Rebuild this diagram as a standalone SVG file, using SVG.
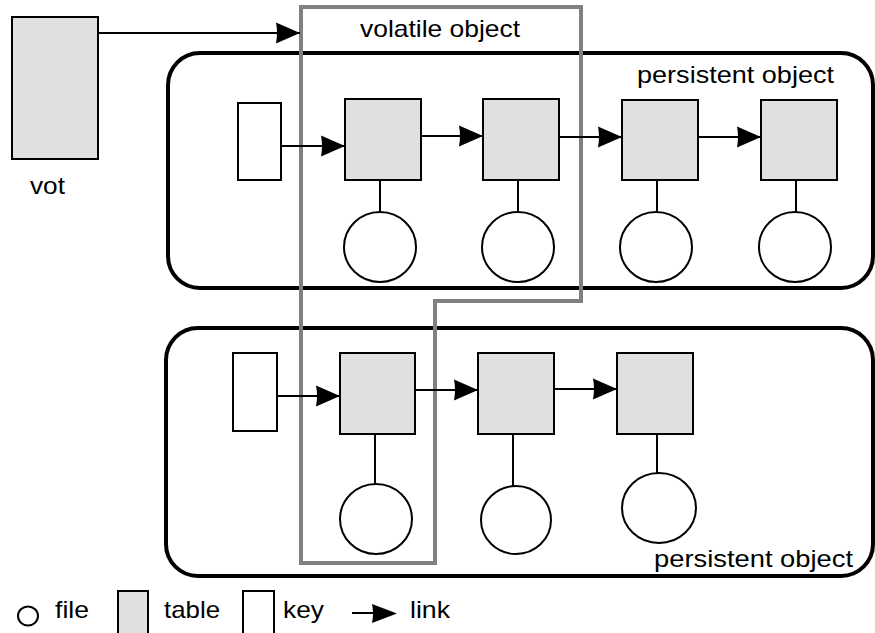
<svg xmlns="http://www.w3.org/2000/svg" width="875" height="633" viewBox="0 0 875 633">
<style>
.txt{font-family:"Liberation Sans",Arial,Helvetica,sans-serif;font-size:24px;fill:#000}
.table{fill:#e0e0e0;stroke:#000;stroke-width:2}
.key{fill:#fff;stroke:#000;stroke-width:2}
.file{fill:#fff;stroke:#000;stroke-width:2}
.obj{fill:none;stroke:#000;stroke-width:4}
.vol{fill:none;stroke:#808080;stroke-width:4}
.link{stroke:#000;stroke-width:2;fill:none}
.arrow{stroke:#000;stroke-width:2;fill:none;marker-end:url(#ah)}
</style>
<defs>
<marker id="ah" markerUnits="userSpaceOnUse" markerWidth="25" markerHeight="22" refX="24" refY="10.5" orient="auto" overflow="visible">
<path d="M0,0 L24,10.5 L0,21 Q2,10.5 0,0 z" fill="#000"/>
</marker>
</defs>
<rect width="875" height="633" fill="#fff"/>

<g id="persistent-top">
<rect class="obj" x="168" y="53" width="705" height="235" rx="32" ry="32"/>
<text class="txt" x="637" y="83" textLength="197" lengthAdjust="spacingAndGlyphs">persistent object</text>
</g>
<g id="persistent-bottom">
<rect class="obj" x="166" y="328" width="707" height="248" rx="32" ry="32"/>
<text class="txt" x="654" y="567" textLength="199" lengthAdjust="spacingAndGlyphs">persistent object</text>
</g>
<g id="volatile">
<path class="vol" d="M301,7 L581,7 L581,301 L435,301 L435,563 L301,563 Z"/>
<text class="txt" x="360" y="36.5" textLength="160" lengthAdjust="spacingAndGlyphs">volatile object</text>
</g>

<g id="vot">
<rect class="table" x="12" y="17" width="86" height="142"/>
<text class="txt" x="30" y="194" textLength="35" lengthAdjust="spacingAndGlyphs">vot</text>
</g>

<g id="key1"><rect class="key" x="238" y="103" width="43" height="77"/></g>
<g id="t1"><rect class="table" x="345" y="99" width="76" height="81"/></g>
<g id="t2"><rect class="table" x="483" y="99" width="76" height="81"/></g>
<g id="t3"><rect class="table" x="622" y="100" width="76" height="80"/></g>
<g id="t4"><rect class="table" x="761" y="100" width="76" height="80"/></g>
<g id="f1"><ellipse class="file" cx="380" cy="247" rx="36" ry="35"/></g>
<g id="f2"><ellipse class="file" cx="518" cy="247" rx="36" ry="35"/></g>
<g id="f3"><ellipse class="file" cx="656" cy="247" rx="36" ry="35"/></g>
<g id="f4"><ellipse class="file" cx="795" cy="247" rx="36" ry="35"/></g>

<g id="key2"><rect class="key" x="233" y="353" width="44" height="78"/></g>
<g id="t5"><rect class="table" x="340" y="353" width="75" height="81"/></g>
<g id="t6"><rect class="table" x="478" y="353" width="76" height="81"/></g>
<g id="t7"><rect class="table" x="617" y="353" width="76" height="81"/></g>
<g id="f5"><ellipse class="file" cx="376" cy="519" rx="36" ry="35"/></g>
<g id="f6"><ellipse class="file" cx="516" cy="520" rx="35" ry="34"/></g>
<g id="f7"><ellipse class="file" cx="659" cy="508" rx="37" ry="35"/></g>

<g id="connectors">
<line class="arrow" x1="98" y1="33" x2="300" y2="33"/>
<line class="arrow" x1="281" y1="146" x2="345" y2="146"/>
<line class="arrow" x1="421" y1="136" x2="483" y2="136"/>
<line class="arrow" x1="559" y1="137" x2="622" y2="137"/>
<line class="arrow" x1="698" y1="137" x2="761" y2="137"/>
<line class="link" x1="380" y1="180" x2="380" y2="212"/>
<line class="link" x1="518" y1="180" x2="518" y2="212"/>
<line class="link" x1="657" y1="180" x2="657" y2="212"/>
<line class="link" x1="796" y1="180" x2="796" y2="212"/>
<line class="arrow" x1="277" y1="396" x2="340" y2="396"/>
<line class="arrow" x1="415" y1="390" x2="478" y2="390"/>
<line class="arrow" x1="554" y1="389" x2="617" y2="389"/>
<line class="link" x1="375" y1="434" x2="375" y2="484"/>
<line class="link" x1="513" y1="434" x2="513" y2="486"/>
<line class="link" x1="657" y1="434" x2="657" y2="473"/>
</g>

<g id="legend">
<ellipse class="file" cx="28" cy="616" rx="10" ry="9.5"/>
<text class="txt" x="55" y="618" textLength="34" lengthAdjust="spacingAndGlyphs">file</text>
<rect class="table" x="118" y="591" width="30" height="50"/>
<text class="txt" x="164" y="618" textLength="56" lengthAdjust="spacingAndGlyphs">table</text>
<rect class="key" x="243" y="591" width="31" height="50"/>
<text class="txt" x="283" y="618" textLength="41" lengthAdjust="spacingAndGlyphs">key</text>
<line class="link" x1="352" y1="613" x2="375" y2="613"/>
<path d="M372,604 L397,613.5 L372,623 Q374,613.5 372,604 z" fill="#000"/>
<text class="txt" x="410" y="618" textLength="40" lengthAdjust="spacingAndGlyphs">link</text>
</g>
</svg>
